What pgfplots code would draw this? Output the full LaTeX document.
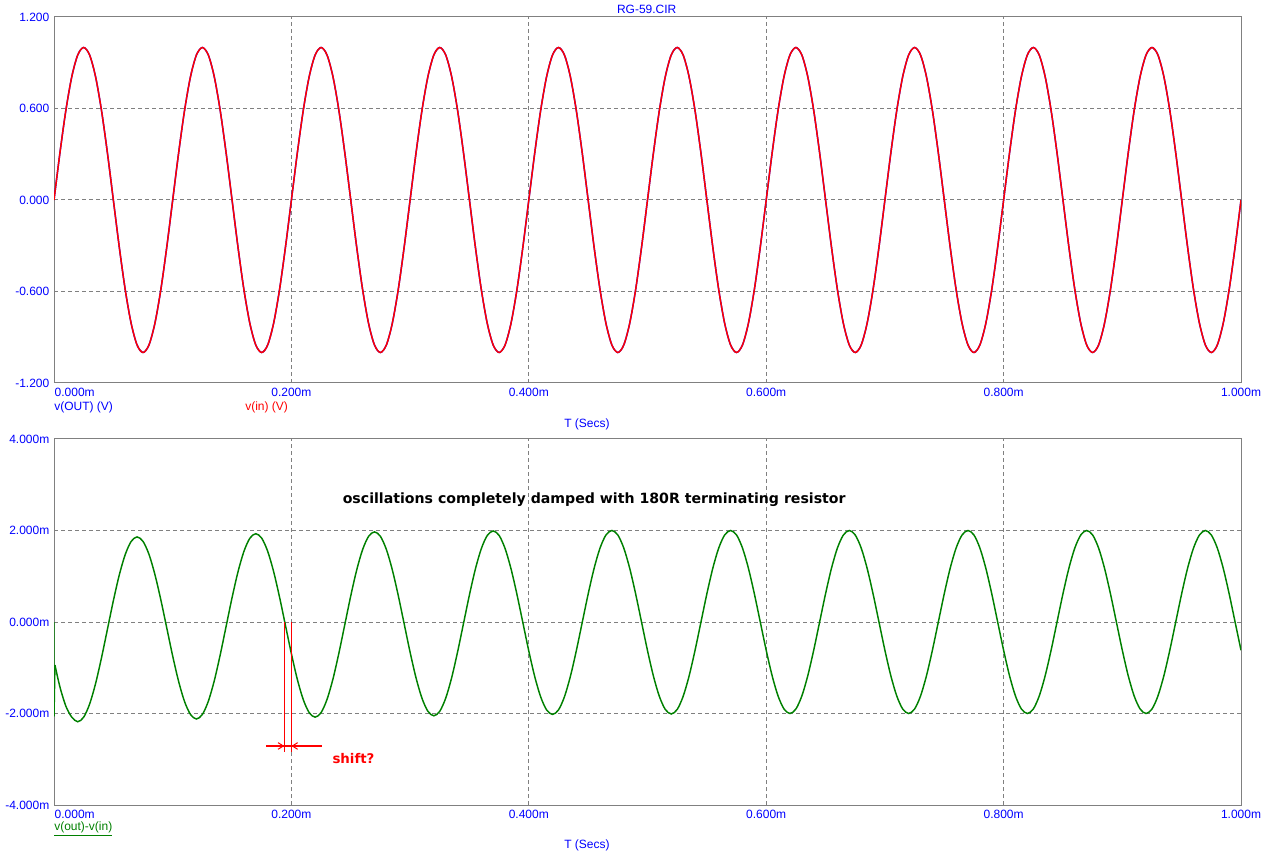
\documentclass[border=0pt]{standalone}
\usepackage{pgfplots}
\pgfplotsset{compat=1.18}
\usepackage{pgfplotstable}
\usepackage{fontspec}
\setmainfont{Liberation Sans}
\newfontfamily\annfont{DejaVu Sans}
\usetikzlibrary{arrows.meta}
\definecolor{scblue}{RGB}{0,0,255}
\definecolor{scred}{RGB}{255,0,0}
\definecolor{scgreen}{RGB}{0,128,0}
\definecolor{scgray}{RGB}{128,128,128}

% v(in) and v(OUT) (identical within plot resolution), t in ms
\pgfplotstableread[row sep=\\]{
t v\\
0.000 0\\ 0.005 0.309\\ 0.010 0.588\\ 0.015 0.809\\ 0.020 0.951\\ 0.025 1\\ 0.030 0.951\\ 0.035 0.809\\ 0.040 0.588\\ 0.045 0.309\\ 0.050 0\\ 0.055 -0.309\\ 0.060 -0.588\\ 0.065 -0.809\\ 0.070 -0.951\\ 0.075 -1\\ 0.080 -0.951\\ 0.085 -0.809\\ 0.090 -0.588\\ 0.095 -0.309\\
0.100 0\\ 0.105 0.309\\ 0.110 0.588\\ 0.115 0.809\\ 0.120 0.951\\ 0.125 1\\ 0.130 0.951\\ 0.135 0.809\\ 0.140 0.588\\ 0.145 0.309\\ 0.150 0\\ 0.155 -0.309\\ 0.160 -0.588\\ 0.165 -0.809\\ 0.170 -0.951\\ 0.175 -1\\ 0.180 -0.951\\ 0.185 -0.809\\ 0.190 -0.588\\ 0.195 -0.309\\
0.200 0\\ 0.205 0.309\\ 0.210 0.588\\ 0.215 0.809\\ 0.220 0.951\\ 0.225 1\\ 0.230 0.951\\ 0.235 0.809\\ 0.240 0.588\\ 0.245 0.309\\ 0.250 0\\ 0.255 -0.309\\ 0.260 -0.588\\ 0.265 -0.809\\ 0.270 -0.951\\ 0.275 -1\\ 0.280 -0.951\\ 0.285 -0.809\\ 0.290 -0.588\\ 0.295 -0.309\\
0.300 0\\ 0.305 0.309\\ 0.310 0.588\\ 0.315 0.809\\ 0.320 0.951\\ 0.325 1\\ 0.330 0.951\\ 0.335 0.809\\ 0.340 0.588\\ 0.345 0.309\\ 0.350 0\\ 0.355 -0.309\\ 0.360 -0.588\\ 0.365 -0.809\\ 0.370 -0.951\\ 0.375 -1\\ 0.380 -0.951\\ 0.385 -0.809\\ 0.390 -0.588\\ 0.395 -0.309\\
0.400 0\\ 0.405 0.309\\ 0.410 0.588\\ 0.415 0.809\\ 0.420 0.951\\ 0.425 1\\ 0.430 0.951\\ 0.435 0.809\\ 0.440 0.588\\ 0.445 0.309\\ 0.450 0\\ 0.455 -0.309\\ 0.460 -0.588\\ 0.465 -0.809\\ 0.470 -0.951\\ 0.475 -1\\ 0.480 -0.951\\ 0.485 -0.809\\ 0.490 -0.588\\ 0.495 -0.309\\
0.500 0\\ 0.505 0.309\\ 0.510 0.588\\ 0.515 0.809\\ 0.520 0.951\\ 0.525 1\\ 0.530 0.951\\ 0.535 0.809\\ 0.540 0.588\\ 0.545 0.309\\ 0.550 0\\ 0.555 -0.309\\ 0.560 -0.588\\ 0.565 -0.809\\ 0.570 -0.951\\ 0.575 -1\\ 0.580 -0.951\\ 0.585 -0.809\\ 0.590 -0.588\\ 0.595 -0.309\\
0.600 0\\ 0.605 0.309\\ 0.610 0.588\\ 0.615 0.809\\ 0.620 0.951\\ 0.625 1\\ 0.630 0.951\\ 0.635 0.809\\ 0.640 0.588\\ 0.645 0.309\\ 0.650 0\\ 0.655 -0.309\\ 0.660 -0.588\\ 0.665 -0.809\\ 0.670 -0.951\\ 0.675 -1\\ 0.680 -0.951\\ 0.685 -0.809\\ 0.690 -0.588\\ 0.695 -0.309\\
0.700 0\\ 0.705 0.309\\ 0.710 0.588\\ 0.715 0.809\\ 0.720 0.951\\ 0.725 1\\ 0.730 0.951\\ 0.735 0.809\\ 0.740 0.588\\ 0.745 0.309\\ 0.750 0\\ 0.755 -0.309\\ 0.760 -0.588\\ 0.765 -0.809\\ 0.770 -0.951\\ 0.775 -1\\ 0.780 -0.951\\ 0.785 -0.809\\ 0.790 -0.588\\ 0.795 -0.309\\
0.800 0\\ 0.805 0.309\\ 0.810 0.588\\ 0.815 0.809\\ 0.820 0.951\\ 0.825 1\\ 0.830 0.951\\ 0.835 0.809\\ 0.840 0.588\\ 0.845 0.309\\ 0.850 0\\ 0.855 -0.309\\ 0.860 -0.588\\ 0.865 -0.809\\ 0.870 -0.951\\ 0.875 -1\\ 0.880 -0.951\\ 0.885 -0.809\\ 0.890 -0.588\\ 0.895 -0.309\\
0.900 0\\ 0.905 0.309\\ 0.910 0.588\\ 0.915 0.809\\ 0.920 0.951\\ 0.925 1\\ 0.930 0.951\\ 0.935 0.809\\ 0.940 0.588\\ 0.945 0.309\\ 0.950 0\\ 0.955 -0.309\\ 0.960 -0.588\\ 0.965 -0.809\\ 0.970 -0.951\\ 0.975 -1\\ 0.980 -0.951\\ 0.985 -0.809\\ 0.990 -0.588\\ 0.995 -0.309\\
1.000 0\\
}\vsig

% v(out)-v(in) in mV, t in ms
\pgfplotstableread[row sep=\\]{
t d\\
0.0008 -0.94\\ 0.005 -1.42\\ 0.010 -1.84\\ 0.015 -2.08\\ 0.020 -2.18\\ 0.025 -2.081\\ 0.030 -1.794\\ 0.035 -1.348\\ 0.040 -0.784\\ 0.045 -0.16\\ 0.050 0.464\\ 0.055 1.028\\ 0.060 1.474\\ 0.065 1.761\\ 0.070 1.86\\ 0.075 1.762\\ 0.080 1.480\\ 0.085 1.040\\ 0.090 0.485\\ 0.095 -0.13\\
0.100 -0.745\\ 0.105 -1.30\\ 0.110 -1.74\\ 0.115 -2.022\\ 0.120 -2.12\\ 0.125 -2.021\\ 0.130 -1.733\\ 0.135 -1.286\\ 0.140 -0.721\\ 0.145 -0.095\\ 0.150 0.531\\ 0.155 1.096\\ 0.160 1.543\\ 0.165 1.831\\ 0.170 1.93\\ 0.175 1.832\\ 0.180 1.547\\ 0.185 1.104\\ 0.190 0.545\\ 0.195 -0.075\\
0.200 -0.695\\ 0.205 -1.254\\ 0.210 -1.697\\ 0.215 -1.982\\ 0.220 -2.08\\ 0.225 -1.981\\ 0.230 -1.693\\ 0.235 -1.246\\ 0.240 -0.681\\ 0.245 -0.055\\ 0.250 0.571\\ 0.255 1.136\\ 0.260 1.583\\ 0.265 1.871\\ 0.270 1.97\\ 0.275 1.872\\ 0.280 1.586\\ 0.285 1.142\\ 0.290 0.581\\ 0.295 -0.04\\
0.300 -0.661\\ 0.305 -1.222\\ 0.310 -1.666\\ 0.315 -1.952\\ 0.320 -2.05\\ 0.325 -1.951\\ 0.330 -1.664\\ 0.335 -1.218\\ 0.340 -0.654\\ 0.345 -0.03\\ 0.350 0.594\\ 0.355 1.158\\ 0.360 1.604\\ 0.365 1.891\\ 0.370 1.99\\ 0.375 1.892\\ 0.380 1.607\\ 0.385 1.164\\ 0.390 0.605\\ 0.395 -0.015\\
0.400 -0.635\\ 0.405 -1.194\\ 0.410 -1.637\\ 0.415 -1.922\\ 0.420 -2.02\\ 0.425 -1.922\\ 0.430 -1.636\\ 0.435 -1.192\\ 0.440 -0.631\\ 0.445 -0.01\\ 0.450 0.611\\ 0.455 1.172\\ 0.460 1.616\\ 0.465 1.902\\ 0.470 2.0\\ 0.475 1.902\\ 0.480 1.617\\ 0.485 1.174\\ 0.490 0.615\\ 0.495 -0.005\\
0.500 -0.625\\ 0.505 -1.184\\ 0.510 -1.627\\ 0.515 -1.912\\ 0.520 -2.01\\ 0.525 -1.912\\ 0.530 -1.627\\ 0.535 -1.184\\ 0.540 -0.625\\ 0.545 -0.005\\ 0.550 0.615\\ 0.555 1.174\\ 0.560 1.617\\ 0.565 1.902\\ 0.570 2.0\\ 0.575 1.902\\ 0.580 1.618\\ 0.585 1.176\\ 0.590 0.618\\ 0.595 0\\
0.600 -0.618\\ 0.605 -1.176\\ 0.610 -1.618\\ 0.615 -1.902\\ 0.620 -2\\ 0.625 -1.902\\ 0.630 -1.618\\ 0.635 -1.176\\ 0.640 -0.618\\ 0.645 0\\ 0.650 0.618\\ 0.655 1.176\\ 0.660 1.618\\ 0.665 1.902\\ 0.670 2\\ 0.675 1.902\\ 0.680 1.618\\ 0.685 1.176\\ 0.690 0.618\\ 0.695 0\\
0.700 -0.618\\ 0.705 -1.176\\ 0.710 -1.618\\ 0.715 -1.902\\ 0.720 -2\\ 0.725 -1.902\\ 0.730 -1.618\\ 0.735 -1.176\\ 0.740 -0.618\\ 0.745 0\\ 0.750 0.618\\ 0.755 1.176\\ 0.760 1.618\\ 0.765 1.902\\ 0.770 2\\ 0.775 1.902\\ 0.780 1.618\\ 0.785 1.176\\ 0.790 0.618\\ 0.795 0\\
0.800 -0.618\\ 0.805 -1.176\\ 0.810 -1.618\\ 0.815 -1.902\\ 0.820 -2\\ 0.825 -1.902\\ 0.830 -1.618\\ 0.835 -1.176\\ 0.840 -0.618\\ 0.845 0\\ 0.850 0.618\\ 0.855 1.176\\ 0.860 1.618\\ 0.865 1.902\\ 0.870 2\\ 0.875 1.902\\ 0.880 1.618\\ 0.885 1.176\\ 0.890 0.618\\ 0.895 0\\
0.900 -0.618\\ 0.905 -1.176\\ 0.910 -1.618\\ 0.915 -1.902\\ 0.920 -2\\ 0.925 -1.902\\ 0.930 -1.618\\ 0.935 -1.176\\ 0.940 -0.618\\ 0.945 0\\ 0.950 0.618\\ 0.955 1.176\\ 0.960 1.618\\ 0.965 1.902\\ 0.970 2\\ 0.975 1.902\\ 0.980 1.618\\ 0.985 1.176\\ 0.990 0.618\\ 0.995 0\\
1.000 -0.618\\
}\vdiff

\pgfplotsset{
  spicestyle/.style={
    scale only axis, width=890.25pt, height=274.5pt,
    xmin=0, xmax=1,
    axis line style={scgray, line width=0.75pt},
    major tick length=0pt,
    xmajorgrids, ymajorgrids,
    major grid style={scgray, dash pattern=on 3pt off 2.25pt, line width=0.75pt},
    tick label style={font=\fontsize{9}{10}\selectfont, text=scblue},
    xtick={0.2,0.4,0.6,0.8,1.0},
    xticklabels={0.200m,0.400m,0.600m,0.800m,1.000m},
    extra x ticks={0},
    extra x tick labels={0.000m},
    extra x tick style={grid=none, xticklabel style={anchor=north west, xshift=-3pt}},
  }
}

\begin{document}
\begin{tikzpicture}
\path[use as bounding box] (0,0) rectangle (957pt,645pt);

% ---------- top plot ----------
\begin{axis}[spicestyle, at={(40.5pt,357.75pt)}, anchor=south west,
  ymin=-1.2, ymax=1.2, ytick={-1.2,-0.6,0,0.6,1.2},
  yticklabels={-1.200,-0.600,0.000,0.600,1.200}]
\addplot[scblue, line width=1.1pt, smooth] table[x=t,y=v]{\vsig};
\addplot[scred, line width=1.1pt, smooth] table[x=t,y=v]{\vsig};
\end{axis}

% ---------- bottom plot ----------
\begin{axis}[spicestyle, at={(40.5pt,41.25pt)}, anchor=south west,
  ymin=-4, ymax=4, ytick={-4,-2,0,2,4},
  yticklabels={-4.000m,-2.000m,0.000m,2.000m,4.000m}]
\addplot[scgreen, line width=1.1pt] coordinates {(0,0) (0,-2.07) (0.0008,-0.94)};
\addplot[scgreen, line width=1.1pt, smooth] table[x=t,y=d]{\vdiff};
\draw[color=scred, line width=0.9pt] (axis cs:0.194,0) -- (axis cs:0.194,-2.84);
\draw[color=scred, line width=0.9pt] (axis cs:0.2,0) -- (axis cs:0.2,-2.84);
\draw[color=scred, line width=0.9pt] (axis cs:0.1786,-2.71) -- (axis cs:0.2258,-2.71);
\draw[color=scred, line width=0.75pt, -{Straight Barb[length=4pt,width=5pt]}] (axis cs:0.184,-2.71) -- (axis cs:0.194,-2.71);
\draw[color=scred, line width=0.75pt, -{Straight Barb[length=4pt,width=5pt]}] (axis cs:0.21,-2.71) -- (axis cs:0.2,-2.71);
\node[text=scred, font=\annfont\bfseries\fontsize{10}{12}\selectfont] at (axis cs:0.2523,-2.99) {shift?};
\node[text=black, font=\annfont\bfseries\fontsize{10.6}{12}\selectfont] at (axis cs:0.4551,2.676) {oscillations completely damped with 180R terminating resistor};
\end{axis}

% ---------- labels ----------
\node[text=scblue, font=\fontsize{9}{10}\selectfont] at (485pt,638.25pt) {RG-59.CIR};
\node[anchor=west, inner sep=0pt, text=scblue, font=\fontsize{9}{10}\selectfont] at (40.5pt,339.75pt) {v(OUT) (V)};
\node[anchor=west, inner sep=0pt, text=scred, font=\fontsize{9}{10}\selectfont] at (183.75pt,339.75pt) {v(in) (V)};
\node[text=scblue, font=\fontsize{9}{10}\selectfont] at (440.25pt,327pt) {T (Secs)};
\node[anchor=west, inner sep=0pt, text=scgreen, font=\fontsize{9}{10}\selectfont] at (40.5pt,23.25pt) {\underline{v(out)-v(in)}};
\node[text=scblue, font=\fontsize{9}{10}\selectfont] at (440.25pt,11.25pt) {T (Secs)};
\end{tikzpicture}
\end{document}
